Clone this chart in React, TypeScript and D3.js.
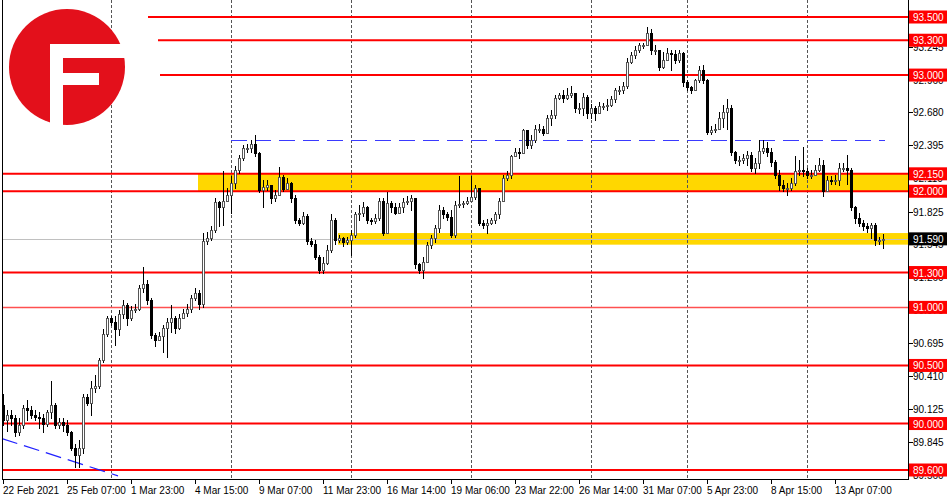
import React from "react";
import * as d3 from "d3";

// H4 candles, 22 Feb 2021 -> 13 Apr 2021
const firstOpen = 90.16;
const closes = [
  90.03, 90.07, 90.05, 89.93, 89.99, 90.13, 90.12, 90.07, 90.06, 90.05,
  90.0, 90.1, 90.16, 89.99, 90.01, 89.99, 89.93, 89.79, 89.73, 89.79,
  90.23, 90.18, 90.31, 90.32, 90.55, 90.77, 90.91, 90.87, 90.81, 90.94,
  91.02, 90.91, 90.98, 90.99, 91.17, 91.2, 91.06, 90.76, 90.72, 90.75,
  90.82, 90.87, 90.91, 90.82, 90.91, 90.95, 90.99, 91.08, 91.12, 91.03,
  91.57, 91.6, 91.67, 91.91, 91.86, 91.92, 91.97, 92.07, 92.18, 92.29,
  92.37, 92.37, 92.41, 92.33, 92.01, 92.04, 92.05, 91.94, 91.97, 92.12,
  92.02, 92.07, 91.94, 91.75, 91.73, 91.79, 91.57, 91.55, 91.43, 91.32,
  91.38, 91.49, 91.75, 91.58, 91.6, 91.56, 91.58, 91.62, 91.8, 91.81,
  91.86, 91.75, 91.74, 91.77, 91.92, 91.64, 91.9, 91.86, 91.81, 91.86,
  91.91, 91.92, 91.94, 91.37, 91.32, 91.39, 91.54, 91.6, 91.68, 91.84,
  91.8, 91.78, 91.62, 91.88, 91.89, 91.9, 91.92, 91.95, 92.03, 91.73,
  91.71, 91.73, 91.75, 91.8, 91.92, 92.11, 92.14, 92.3, 92.34, 92.33,
  92.53, 92.4, 92.44, 92.54, 92.54, 92.5, 92.63, 92.66, 92.8, 92.83,
  92.8, 92.83, 92.85, 92.72, 92.72, 92.81, 92.67, 92.72, 92.67, 92.73,
  92.73, 92.74, 92.79, 92.87, 92.87, 92.91, 93.11, 93.17, 93.22, 93.26,
  93.26, 93.36, 93.22, 93.22, 93.07, 93.13, 93.19, 93.18, 93.13, 93.19,
  92.94, 92.9, 92.87, 92.96, 93.04, 92.96, 92.51, 92.53, 92.54, 92.63,
  92.68, 92.72, 92.34, 92.27, 92.27, 92.29, 92.31, 92.2, 92.24, 92.35,
  92.37, 92.34, 92.25, 92.14, 92.05, 92.03, 92.03, 92.07, 92.17, 92.18,
  92.17, 92.14, 92.14, 92.18, 92.23, 92.0, 92.1, 92.09, 92.1, 92.2,
  92.2, 92.18, 91.86, 91.77, 91.73, 91.7, 91.68, 91.71, 91.58, 91.58,
  91.59,
];
const highs = [
  90.25, 90.12, 90.12, 90.07, 90.05, 90.16, 90.2, 90.15, 90.12, 90.1,
  90.08, 90.12, 90.37, 90.18, 90.05, 90.05, 90.03, 89.94, 89.82, 89.86,
  90.25, 90.25, 90.37, 90.42, 90.56, 90.81, 90.93, 90.93, 90.93, 90.98,
  91.06, 91.04, 91.01, 91.03, 91.19, 91.35, 91.24, 91.08, 90.78, 90.79,
  90.85, 90.91, 91.02, 90.93, 90.94, 90.99, 91.03, 91.11, 91.17, 91.15,
  91.64, 91.65, 91.7, 91.94, 91.92, 92.17, 92.03, 92.13, 92.22, 92.31,
  92.4, 92.41, 92.44, 92.48, 92.34, 92.1, 92.1, 92.05, 92.01, 92.21,
  92.14, 92.11, 92.08, 91.97, 91.77, 91.82, 91.8, 91.6, 91.58, 91.45,
  91.43, 91.54, 91.8, 91.77, 91.62, 91.61, 91.61, 91.67, 91.82, 91.88,
  91.91, 91.87, 91.77, 91.8, 91.94, 91.94, 91.99, 91.92, 91.9, 91.9,
  91.94, 91.96, 91.97, 91.94, 91.38, 91.43, 91.56, 91.62, 91.71, 91.88,
  91.86, 91.82, 91.84, 91.92, 92.13, 91.92, 91.95, 92.13, 92.05, 92.03,
  91.75, 91.76, 91.77, 91.82, 91.94, 92.14, 92.17, 92.31, 92.37, 92.37,
  92.54, 92.53, 92.48, 92.57, 92.58, 92.56, 92.66, 92.7, 92.83, 92.85,
  92.87, 92.89, 92.91, 92.79, 92.76, 92.85, 92.83, 92.75, 92.73, 92.77,
  92.76, 92.79, 92.82, 92.89, 92.91, 92.94, 93.15, 93.2, 93.25, 93.28,
  93.28, 93.41, 93.4, 93.26, 93.2, 93.2, 93.23, 93.22, 93.22, 93.22,
  93.2, 92.96, 92.91, 92.97, 93.08, 93.09, 92.97, 92.56, 92.58, 92.68,
  92.74, 92.79, 92.74, 92.35, 92.3, 92.32, 92.35, 92.34, 92.29, 92.44,
  92.44, 92.42, 92.37, 92.27, 92.18, 92.1, 92.07, 92.11, 92.3, 92.27,
  92.38, 92.2, 92.18, 92.23, 92.29, 92.27, 92.13, 92.13, 92.14, 92.24,
  92.24, 92.31, 92.2, 91.87, 91.81, 91.75, 91.73, 91.73, 91.73, 91.61,
  91.63,
];
const lows = [
  89.99, 89.94, 89.99, 89.89, 89.9, 89.96, 90.03, 90.05, 90.03, 89.96,
  89.93, 89.98, 90.05, 89.96, 89.96, 89.94, 89.9, 89.77, 89.63, 89.63,
  89.75, 90.16, 90.07, 90.27, 90.31, 90.53, 90.75, 90.85, 90.68, 90.76,
  90.91, 90.85, 90.89, 90.96, 90.98, 91.13, 91.03, 90.74, 90.67, 90.72,
  90.62, 90.57, 90.79, 90.78, 90.81, 90.91, 90.93, 90.96, 91.06, 90.99,
  91.0, 91.55, 91.58, 91.65, 91.7, 91.71, 91.92, 91.81, 92.03, 92.16,
  92.27, 92.34, 92.34, 92.3, 91.99, 91.86, 92.01, 91.9, 91.92, 91.99,
  92.0, 92.04, 91.91, 91.73, 91.71, 91.72, 91.55, 91.53, 91.42, 91.3,
  91.3, 91.37, 91.48, 91.55, 91.56, 91.53, 91.55, 91.45, 91.61, 91.75,
  91.79, 91.73, 91.72, 91.73, 91.75, 91.62, 91.64, 91.82, 91.8, 91.84,
  91.82, 91.89, 91.84, 91.34, 91.3, 91.25, 91.39, 91.51, 91.56, 91.65,
  91.77, 91.75, 91.61, 91.61, 91.86, 91.86, 91.89, 91.92, 91.93, 91.71,
  91.68, 91.64, 91.72, 91.73, 91.77, 91.92, 92.1, 92.11, 92.3, 92.29,
  92.34, 92.37, 92.37, 92.42, 92.51, 92.48, 92.51, 92.57, 92.63, 92.79,
  92.77, 92.79, 92.81, 92.68, 92.67, 92.66, 92.63, 92.63, 92.61, 92.68,
  92.71, 92.7, 92.73, 92.77, 92.84, 92.85, 92.89, 93.1, 93.15, 93.2,
  93.23, 93.26, 93.18, 93.18, 93.04, 93.06, 93.13, 93.04, 93.1, 93.11,
  92.91, 92.87, 92.85, 92.89, 92.94, 92.93, 92.49, 92.49, 92.51, 92.54,
  92.55, 92.54, 92.31, 92.24, 92.23, 92.24, 92.23, 92.17, 92.16, 92.2,
  92.33, 92.3, 92.22, 92.11, 92.01, 92.0, 91.97, 92.01, 92.05, 92.14,
  92.13, 92.11, 92.11, 92.14, 92.17, 91.96, 92.01, 92.06, 92.06, 92.05,
  92.17, 92.06, 91.84, 91.73, 91.7, 91.67, 91.65, 91.6, 91.54, 91.55,
  91.51,
];

const timeLabels = [
  "22 Feb 2021", "25 Feb 07:00", "1 Mar 23:00", "4 Mar 15:00", "9 Mar 07:00",
  "11 Mar 23:00", "16 Mar 14:00", "19 Mar 06:00", "23 Mar 22:00", "26 Mar 14:00",
  "31 Mar 07:00", "5 Apr 23:00", "8 Apr 15:00", "13 Apr 07:00",
];
const barsPerLabel = 16;
const weekSeparators = [27, 57, 87, 117, 147, 171, 201];

const priceTicks = [
  93.245, 92.96, 92.68, 92.395, 92.11, 91.825, 91.545, 91.26, 90.975, 90.695,
  90.41, 90.125, 89.845, 89.56,
];

// horizontal support / resistance levels and the bar where each one starts
const levels = [93.5, 93.3, 93.0, 92.15, 92.0, 91.3, 91.0, 90.5, 90.0, 89.6];
const levelStart = [36.25, 38.75, 39.25, -0.25, -0.25, -0.25, -0.25, -0.25, -0.25, -0.25];

const zoneHigh = [92.15, 91.64];
const zoneLow = [92.0, 91.54];
const zoneStart = [48.75, 83.75];

const dashedLevel = 92.44;
const dashedFrom = 57;
const dashedTo = 220.5;

const trendIdx = [-0.25, 28.75];
const trendPrice = [89.87, 89.55];

const bid = 91.59;

const W = 950;
const H = 500;
const plotLeft = 2;
const plotRight = 908;
const plotBottom = 479;

const font = "'Liberation Sans', Arial, sans-serif";

export default function App() {
  const x = d3.scaleLinear().domain([0, 220]).range([3, 883]);
  const y = d3.scaleLinear().domain([89.6, 93.5]).range([470, 17]);

  const candles = closes.map((c, i) => {
    const o = i === 0 ? firstOpen : closes[i - 1];
    const h = Math.max(highs[i], o, c);
    const l = Math.min(lows[i], o, c);
    const cx = Math.round(x(i));
    const top = Math.round(y(Math.max(o, c)));
    const bot = Math.round(y(Math.min(o, c)));
    const up = c >= o;
    return (
      <g key={i}>
        <line x1={cx + 0.5} x2={cx + 0.5} y1={Math.round(y(h))} y2={Math.round(y(l)) + 1} stroke="#000" strokeWidth={1} />
        {up ? (
          <rect x={cx - 0.5} y={top + 0.5} width={2} height={Math.max(bot - top, 1)} fill="#fff" stroke="#555" strokeWidth={1} />
        ) : (
          <rect x={cx - 1} y={top} width={3} height={Math.max(bot - top, 1) + 1} fill="#000" />
        )}
      </g>
    );
  });

  const yr = (p: number) => Math.round(y(p));

  return (
    <svg width={W} height={H} style={{ position: "absolute", left: 0, top: 0, background: "#fff" }}>
      <rect width={W} height={H} fill="#fff" />

      {/* yellow zones */}
      {zoneHigh.map((zh, i) => (
        <rect
          key={"z" + i}
          x={x(zoneStart[i])}
          y={y(zh)}
          width={plotRight - x(zoneStart[i])}
          height={y(zoneLow[i]) - y(zh)}
          fill="#ffd700"
        />
      ))}

      {/* bid line */}
      <line x1={plotLeft} x2={plotRight} y1={yr(bid) + 0.5} y2={yr(bid) + 0.5} stroke="#c0c0c0" strokeWidth={1} />

      {/* week separators */}
      {weekSeparators.map((b) => (
        <line
          key={"g" + b}
          x1={Math.round(x(b)) + 0.5}
          x2={Math.round(x(b)) + 0.5}
          y1={0}
          y2={plotBottom}
          stroke="#555"
          strokeWidth={1}
          strokeDasharray="3,2"
        />
      ))}

      {/* levels */}
      {levels.map((lv, i) => (
        <line
          key={"l" + i}
          x1={x(levelStart[i])}
          x2={plotRight}
          y1={y(lv)}
          y2={y(lv)}
          stroke={lv === 91.0 ? "#ff5050" : "#ff0000"}
          strokeWidth={lv === 91.0 ? 1.5 : 2}
        />
      ))}

      {/* blue dashed resistance and trendline */}
      <line
        x1={x(dashedFrom)}
        x2={x(dashedTo)}
        y1={yr(dashedLevel) + 0.5}
        y2={yr(dashedLevel) + 0.5}
        stroke="#3a3aff"
        strokeWidth={1.2}
        strokeDasharray="16,8"
      />
      <line
        x1={x(trendIdx[0])}
        x2={x(trendIdx[1])}
        y1={y(trendPrice[0])}
        y2={y(trendPrice[1])}
        stroke="#2020ff"
        strokeWidth={1.2}
        strokeDasharray="16,7"
      />

      {candles}

      {/* frame */}
      <line x1={plotLeft + 0.5} x2={plotLeft + 0.5} y1={0} y2={plotBottom + 0.5} stroke="#000" />
      <line x1={plotRight + 0.5} x2={plotRight + 0.5} y1={0} y2={plotBottom + 0.5} stroke="#000" />
      <line x1={plotLeft} x2={plotRight + 1} y1={plotBottom + 0.5} y2={plotBottom + 0.5} stroke="#000" />

      {/* price axis */}
      {priceTicks.map((p) => (
        <g key={"t" + p}>
          <line x1={plotRight + 1} x2={plotRight + 5} y1={yr(p) + 0.5} y2={yr(p) + 0.5} stroke="#000" />
          <text x={plotRight + 5} y={yr(p) + 4} fontSize={10} fontFamily={font} fill="#000">
            {p.toFixed(3)}
          </text>
        </g>
      ))}
      {levels.map((lv, i) => (
        <g key={"lb" + i}>
          <rect x={plotRight + 1} y={y(lv) - 6.5} width={38} height={13} fill="#ff0000" />
          <text x={plotRight + 5} y={y(lv) + 4} fontSize={10} fontFamily={font} fill="#fff">
            {lv.toFixed(3)}
          </text>
        </g>
      ))}
      <rect x={plotRight + 1} y={y(bid) - 6.5} width={38} height={13} fill="#000" />
      <text x={plotRight + 5} y={y(bid) + 4} fontSize={10} fontFamily={font} fill="#fff">
        {bid.toFixed(3)}
      </text>

      {/* time axis */}
      {timeLabels.map((t, k) => {
        const tx = Math.round(x(k * barsPerLabel));
        return (
          <g key={"d" + k}>
            <line x1={tx + 0.5} x2={tx + 0.5} y1={plotBottom} y2={plotBottom + 5} stroke="#000" />
            <text x={tx} y={494} fontSize={10} fontFamily={font} fill="#000">
              {t}
            </text>
          </g>
        );
      })}

      {/* logo */}
      <g>
        <circle cx={67} cy={67} r={58} fill="#e3101b" />
        <rect x={50} y={44} width={78} height={14} fill="#fff" />
        <rect x={50} y={44} width={13} height={85} fill="#fff" />
        <rect x={63} y={73} width={36} height={12} fill="#fff" />
      </g>
    </svg>
  );
}
